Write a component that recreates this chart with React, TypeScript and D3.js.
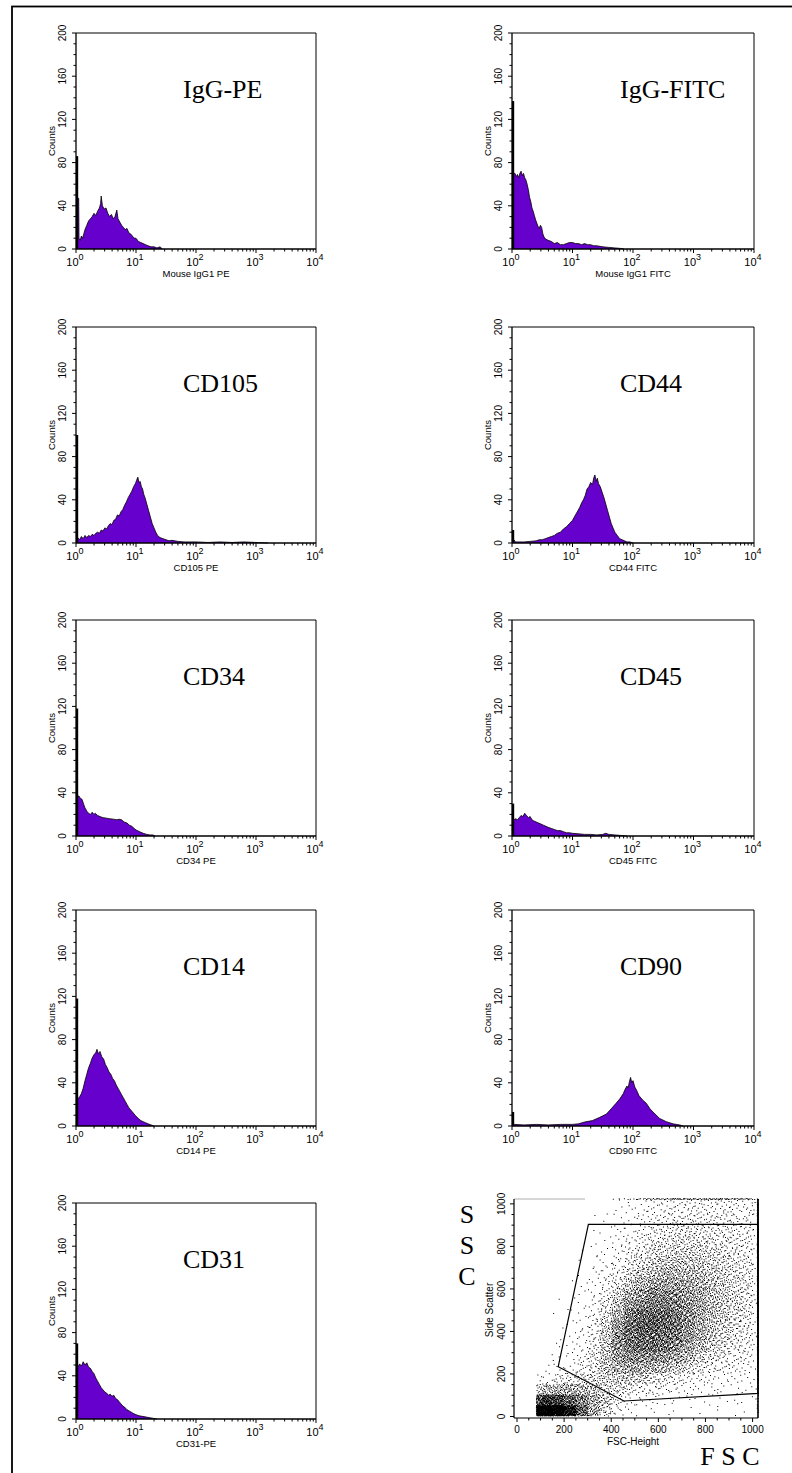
import React, { useMemo } from 'react';
import * as d3 from 'd3';

const W = 792;
const H = 1473;

// ---- Histogram data: [decade position (log10 of fluorescence), counts] ----
const histIgGPE: [number, number][] = [[0.03,47],[0.045,47],[0.05,10],[0.07,8],[0.09,12],[0.11,10],[0.13,14],[0.15,18],[0.18,22],[0.21,26],[0.24,28],[0.27,30],[0.3,33],[0.33,31],[0.36,35],[0.39,38],[0.41,42],[0.42,49],[0.44,40],[0.47,37],[0.5,38],[0.53,33],[0.56,30],[0.59,32],[0.62,28],[0.65,30],[0.68,36],[0.7,28],[0.73,25],[0.76,22],[0.79,20],[0.82,18],[0.85,19],[0.88,15],[0.91,14],[0.94,12],[0.97,10],[1.0,10],[1.04,7],[1.08,6],[1.12,5],[1.16,4],[1.2,3],[1.25,2],[1.3,2],[1.35,1],[1.4,2],[1.44,0]];
const histIgGFITC: [number, number][] = [[0.03,70],[0.05,70],[0.07,67],[0.09,69],[0.11,66],[0.13,70],[0.15,72],[0.17,68],[0.19,70],[0.21,66],[0.23,64],[0.25,60],[0.27,55],[0.29,48],[0.31,44],[0.33,38],[0.35,35],[0.37,31],[0.39,27],[0.41,24],[0.43,21],[0.45,19],[0.47,22],[0.49,20],[0.51,14],[0.53,11],[0.56,9],[0.6,8],[0.65,7],[0.7,5],[0.75,6],[0.8,4],[0.85,4],[0.9,5],[0.95,6],[1.0,6],[1.05,5],[1.1,5],[1.15,4],[1.2,5],[1.25,4],[1.3,4],[1.35,3],[1.4,3],[1.5,2],[1.6,1.5],[1.7,1],[1.8,0.5],[1.85,0]];
const histCD105: [number, number][] = [[0.03,5],[0.06,3],[0.09,6],[0.12,4],[0.15,7],[0.18,5],[0.21,7],[0.24,6],[0.27,8],[0.3,7],[0.33,9],[0.36,10],[0.39,9],[0.42,12],[0.45,11],[0.48,14],[0.51,13],[0.54,16],[0.57,18],[0.6,17],[0.63,21],[0.66,22],[0.69,26],[0.72,25],[0.75,29],[0.78,31],[0.81,35],[0.84,38],[0.87,42],[0.9,45],[0.93,48],[0.96,52],[0.99,55],[1.01,58],[1.03,61],[1.05,56],[1.07,57],[1.09,52],[1.11,50],[1.13,45],[1.15,42],[1.18,36],[1.21,30],[1.24,24],[1.27,18],[1.3,14],[1.33,10],[1.36,7],[1.4,5],[1.45,4],[1.5,3],[1.55,2],[1.6,2.5],[1.7,1.5],[1.8,1],[2.0,1],[2.2,0.5],[2.4,1],[2.6,0.5],[2.8,1],[3.0,0.5],[3.2,0]];
const histCD44: [number, number][] = [[0.03,3],[0.06,1],[0.1,1],[0.2,1],[0.3,1.5],[0.4,2],[0.45,3],[0.5,3],[0.55,4],[0.6,5],[0.65,6],[0.7,7],[0.75,9],[0.8,10],[0.85,13],[0.9,15],[0.95,18],[1.0,21],[1.03,24],[1.06,27],[1.09,30],[1.12,33],[1.15,37],[1.18,40],[1.21,44],[1.24,50],[1.27,52],[1.3,56],[1.33,54],[1.35,60],[1.37,63],[1.39,57],[1.41,60],[1.43,55],[1.46,52],[1.49,47],[1.52,42],[1.55,36],[1.58,30],[1.61,24],[1.64,18],[1.67,14],[1.7,10],[1.74,7],[1.78,4],[1.82,3],[1.86,2],[1.9,1],[1.95,1],[2.0,0]];
const histCD34: [number, number][] = [[0.03,37],[0.05,37],[0.07,35],[0.1,34],[0.13,29],[0.15,26],[0.18,23],[0.21,21],[0.24,20],[0.27,22],[0.3,20],[0.32,21],[0.36,19],[0.4,18],[0.45,17],[0.51,16.5],[0.56,16],[0.62,15.6],[0.68,15],[0.72,15.5],[0.76,15],[0.8,13],[0.85,12],[0.89,10],[0.93,9],[0.97,7],[1.0,5.6],[1.06,4],[1.12,2.5],[1.18,1.5],[1.23,1],[1.28,1],[1.32,0]];
const histCD45: [number, number][] = [[0.03,15],[0.06,16],[0.09,15],[0.12,17],[0.15,19],[0.18,18],[0.21,21],[0.24,19],[0.27,17],[0.3,18],[0.33,15],[0.36,14],[0.4,13],[0.44,12],[0.48,11],[0.52,10],[0.56,9],[0.6,8],[0.65,7],[0.7,6],[0.75,5],[0.8,5],[0.85,4],[0.9,3],[0.95,3],[1.0,2.5],[1.1,2],[1.2,1.5],[1.3,1.5],[1.4,1],[1.5,1.5],[1.55,2.5],[1.6,1.5],[1.7,1],[1.8,0.5],[1.9,0]];
const histCD14: [number, number][] = [[0.03,25],[0.06,27],[0.09,30],[0.12,35],[0.15,42],[0.18,48],[0.21,54],[0.24,58],[0.27,63],[0.3,66],[0.33,68],[0.35,71],[0.37,67],[0.4,69],[0.43,64],[0.46,62],[0.49,57],[0.52,54],[0.55,50],[0.58,48],[0.61,44],[0.64,42],[0.67,38],[0.7,35],[0.73,32],[0.76,29],[0.79,26],[0.82,23],[0.85,20],[0.88,17],[0.91,15],[0.94,13],[0.97,11],[1.0,9],[1.04,7],[1.08,5],[1.12,4],[1.16,3],[1.2,2],[1.25,1],[1.3,0]];
const histCD90: [number, number][] = [[0.03,1.5],[0.2,1],[0.4,1.5],[0.6,1],[0.8,1.5],[1.0,1.5],[1.1,2],[1.2,3.7],[1.33,5],[1.45,8],[1.56,11],[1.64,16],[1.72,21],[1.78,25],[1.84,30],[1.87,34],[1.9,37],[1.92,35],[1.94,41],[1.96,45],[1.98,40],[2.0,42],[2.03,36],[2.06,33],[2.1,28],[2.16,24],[2.22,21],[2.28,16],[2.33,13],[2.44,7],[2.55,4],[2.66,2],[2.77,1],[2.83,0]];
const histCD31: [number, number][] = [[0.03,48],[0.06,51],[0.09,49],[0.12,53],[0.15,50],[0.18,52],[0.21,48],[0.24,47],[0.27,44],[0.3,42],[0.33,38],[0.36,35],[0.39,32],[0.42,29],[0.45,27],[0.48,25],[0.51,24],[0.54,22],[0.57,23],[0.6,21],[0.63,22],[0.66,19],[0.69,18],[0.72,16],[0.75,14],[0.78,12],[0.81,11],[0.84,9],[0.87,8],[0.9,7],[0.93,6],[0.96,5],[1.0,4],[1.05,3],[1.1,2.5],[1.15,2],[1.2,1.5],[1.25,1],[1.3,0.5],[1.35,0]];
// counts in the first (lowest) channel, drawn as the spike on the left axis
const firstChannel = [86, 137, 100, 12, 118, 30, 118, 13, 70];

// ---- Histogram labels ----
const histTitles = ['IgG-PE', 'IgG-FITC', 'CD105', 'CD44', 'CD34', 'CD45', 'CD14', 'CD90', 'CD31'];
const histXLabels = ['Mouse IgG1 PE', 'Mouse IgG1 FITC', 'CD105 PE', 'CD44 FITC', 'CD34 PE', 'CD45 FITC', 'CD14 PE', 'CD90 FITC', 'CD31-PE'];
const histData = [histIgGPE, histIgGFITC, histCD105, histCD44, histCD34, histCD45, histCD14, histCD90, histCD31];
const countTicks = [0, 40, 80, 120, 160, 200];
const decadeTicks = [0, 1, 2, 3, 4];

// ---- Scatter plot: density grid (events per cell) ----
const fscEdges = [80, 100, 150, 200, 250, 300, 350, 400, 450, 500, 550, 600, 650, 700, 750, 800, 850, 900, 950, 1000, 1023];
const sscEdges = [0, 50, 100, 150, 200, 250, 300, 350, 400, 450, 500, 550, 600, 650, 700, 750, 800, 850, 900, 950, 1000, 1023];
// rows from ssc 0-50 (bottom) up to ssc 1000-1023 (top); columns follow fscEdges
const scatterCounts: number[][] = [
  [130, 320, 280, 180, 90, 45, 22, 8, 3, 2, 2, 1, 1, 1, 1, 1, 1, 1, 1, 1],
  [45, 140, 120, 90, 70, 45, 30, 14, 8, 5, 4, 3, 3, 2, 2, 2, 2, 2, 2, 1],
  [10, 35, 40, 40, 38, 30, 25, 20, 15, 12, 10, 8, 6, 5, 4, 4, 3, 3, 3, 1],
  [2, 6, 12, 15, 18, 22, 25, 28, 28, 25, 20, 16, 12, 10, 8, 6, 5, 4, 4, 1],
  [0, 2, 4, 6, 10, 18, 30, 40, 45, 45, 40, 35, 28, 22, 16, 12, 10, 8, 6, 1],
  [0, 1, 2, 4, 8, 16, 32, 50, 60, 62, 60, 55, 45, 35, 25, 18, 14, 10, 8, 1],
  [0, 0, 2, 3, 6, 14, 30, 55, 72, 78, 78, 70, 60, 48, 35, 25, 18, 14, 10, 2],
  [0, 0, 1, 2, 5, 12, 28, 55, 78, 85, 85, 80, 70, 55, 40, 30, 22, 16, 12, 2],
  [0, 0, 1, 2, 4, 10, 25, 50, 75, 85, 88, 82, 72, 58, 44, 32, 24, 18, 13, 2],
  [0, 0, 1, 1, 3, 8, 20, 42, 65, 78, 82, 80, 70, 58, 45, 34, 26, 20, 14, 2],
  [0, 0, 1, 1, 3, 6, 15, 32, 52, 65, 72, 72, 66, 56, 45, 35, 27, 21, 15, 2],
  [0, 0, 0, 1, 2, 5, 11, 24, 40, 52, 60, 62, 58, 50, 42, 34, 27, 21, 15, 2],
  [0, 0, 0, 1, 2, 4, 8, 16, 28, 38, 46, 50, 48, 44, 38, 30, 25, 20, 15, 2],
  [0, 0, 0, 0, 1, 3, 6, 11, 19, 27, 34, 38, 38, 36, 32, 27, 22, 18, 14, 2],
  [0, 0, 0, 0, 1, 2, 4, 8, 13, 19, 25, 29, 30, 29, 27, 23, 20, 16, 13, 2],
  [0, 0, 0, 0, 1, 2, 3, 6, 10, 14, 19, 22, 24, 24, 22, 20, 17, 14, 12, 2],
  [0, 0, 0, 0, 0, 1, 2, 4, 7, 10, 14, 17, 19, 19, 18, 17, 15, 13, 11, 2],
  [0, 0, 0, 0, 0, 1, 2, 3, 5, 8, 11, 13, 15, 15, 15, 14, 13, 12, 10, 2],
  [0, 0, 0, 0, 0, 1, 1, 2, 4, 6, 8, 10, 12, 12, 12, 12, 11, 10, 9, 2],
  [0, 0, 0, 0, 0, 0, 1, 2, 3, 5, 6, 8, 9, 10, 10, 10, 9, 9, 8, 2],
  [0, 0, 0, 0, 0, 0, 0, 1, 1, 2, 3, 3, 4, 4, 4, 4, 4, 4, 3, 1],
];
// saturated events on the right edge (FSC = 1023), per ssc row
const rightEdgeCounts = [3, 4, 6, 8, 10, 12, 14, 16, 18, 20, 22, 24, 26, 26, 28, 28, 30, 30, 30, 30, 8];
// saturated events on the top edge (SSC = 1023), per fsc column
const topEdgeCounts = [0, 0, 0, 0, 0, 0, 0, 2, 4, 6, 8, 10, 12, 12, 12, 12, 12, 10, 10, 2];
const gate: [number, number][] = [[303, 904], [1023, 904], [1023, 109], [454, 73], [175, 234]];
const scatterTicks = [0, 200, 400, 600, 800, 1000];

const SANS = 'Liberation Sans, Arial, sans-serif';
const SERIF = 'Liberation Serif, Times New Roman, serif';
const PURPLE = '#6600cc';

function halton(i: number, b: number) {
  let f = 1, r = 0;
  while (i > 0) { f /= b; r += f * (i % b); i = Math.floor(i / b); }
  return r;
}

type HistProps = {
  left: number; top: number; width: number; height: number; spike: number;
  title: string; titleX: number; titleY: number; xLabel: string; data: [number, number][];
};

function Histogram({ left, top, width, height, spike, title, titleX, titleY, xLabel, data }: HistProps) {
  const x = d3.scaleLog().domain([1, 1e4]).range([left, left + width]);
  const y = d3.scaleLinear().domain([0, 200]).range([top + height, top]);
  const area = d3.area<[number, number]>().x(d => x(Math.pow(10, d[0]))).y0(y(0)).y1(d => y(d[1]));
  const line = d3.line<[number, number]>().x(d => x(Math.pow(10, d[0]))).y(d => y(d[1]));
  const minor: number[] = [];
  for (let d = 0; d < 4; d++) for (let m = 2; m <= 9; m++) minor.push(m * Math.pow(10, d));
  const yMinor = d3.range(0, 201, 10);
  const bottom = top + height;
  return (
    <g>
      <path d={area(data) || ''} fill={PURPLE} />
      <path d={line(data) || ''} fill="none" stroke="#000" strokeWidth={0.8} />
      <rect x={x(1)} y={y(spike)} width={2.2} height={y(0) - y(spike)} fill="#000" />
      <line x1={x(1)} x2={x(1e4)} y1={top} y2={top} stroke="#000" strokeWidth={1} />
      <line x1={x(1e4)} x2={x(1e4)} y1={top} y2={bottom} stroke="#000" strokeWidth={1} />
      <line x1={x(1)} x2={x(1e4)} y1={bottom} y2={bottom} stroke="#000" strokeWidth={1.6} />
      <line x1={x(1)} x2={x(1)} y1={top} y2={bottom} stroke="#000" strokeWidth={1.3} />
      {yMinor.map(v => (
        <line key={'ym' + v} x1={x(1) - (v % 40 === 0 ? 4 : 2.5)} x2={x(1)} y1={y(v)} y2={y(v)} stroke="#000" strokeWidth={1} />
      ))}
      {countTicks.map(v => (
        <text key={'yt' + v} transform={`translate(${x(1) - 10},${y(v)}) rotate(-90)`} textAnchor="middle"
          fontFamily={SANS} fontSize={10} fill="#000">{v}</text>
      ))}
      <text transform={`translate(${x(1) - 21},${(top + bottom) / 2}) rotate(-90)`} textAnchor="middle"
        fontFamily={SANS} fontSize={9.5} fill="#000">Counts</text>
      {minor.map(v => (
        <line key={'xm' + v} x1={x(v)} x2={x(v)} y1={bottom} y2={bottom + 2.5} stroke="#000" strokeWidth={1} />
      ))}
      {decadeTicks.map(p => (
        <g key={'xt' + p}>
          <line x1={x(Math.pow(10, p))} x2={x(Math.pow(10, p))} y1={bottom} y2={bottom + 4} stroke="#000" strokeWidth={1} />
          <text x={x(Math.pow(10, p)) - 1} y={bottom + 17} textAnchor="middle" fontFamily={SANS} fontSize={11} fill="#000">
            10<tspan fontSize={9} dy={-6.5}>{p}</tspan>
          </text>
        </g>
      ))}
      <text x={(left + left + width) / 2} y={bottom + 28} textAnchor="middle" fontFamily={SANS} fontSize={9.5} fill="#000">{xLabel}</text>
      <text x={titleX} y={titleY} fontFamily={SERIF} fontSize={26} fill="#000">{title}</text>
    </g>
  );
}

function Scatter() {
  const x = d3.scaleLinear().domain([0, 1023]).range([517, 758]);
  const y = d3.scaleLinear().domain([0, 1023]).range([1416.5, 1199]);
  const dots = useMemo(() => {
    let s = '';
    let idx = 1;
    const add = (fx: number, fy: number) => {
      const px = x(fx), py = y(fy);
      s += `M${px.toFixed(1)},${(py - 1).toFixed(1)}h1v1h-1z`;
    };
    scatterCounts.forEach((row, ri) => {
      const y0 = sscEdges[ri], y1 = sscEdges[ri + 1];
      row.forEach((n, ci) => {
        const x0 = fscEdges[ci], x1 = fscEdges[ci + 1];
        for (let k = 0; k < n; k++) {
          add(x0 + (x1 - x0) * halton(idx, 2), y0 + (y1 - y0) * halton(idx, 3));
          idx++;
        }
      });
    });
    rightEdgeCounts.forEach((n, ri) => {
      const y0 = sscEdges[ri], y1 = sscEdges[ri + 1];
      for (let k = 0; k < n; k++) { add(1018 + 5 * halton(idx, 2), y0 + (y1 - y0) * halton(idx, 3)); idx++; }
    });
    topEdgeCounts.forEach((n, ci) => {
      const x0 = fscEdges[ci], x1 = fscEdges[ci + 1];
      for (let k = 0; k < n; k++) { add(x0 + (x1 - x0) * halton(idx, 2), 1018 + 5 * halton(idx, 3)); idx++; }
    });
    return s;
  }, []);
  const left = x(0) - 3, right = x(1023), top = y(1023), bottom = 1418;
  const gateLine = d3.line<[number, number]>().x(d => x(d[0])).y(d => y(d[1]));
  const minor = d3.range(0, 1001, 50);
  return (
    <g>
      <line x1={left} x2={585} y1={top} y2={top} stroke="#999" strokeWidth={0.8} />
      <line x1={right} x2={right} y1={top} y2={bottom} stroke="#000" strokeWidth={1.6} />
      <line x1={left} x2={right} y1={bottom} y2={bottom} stroke="#000" strokeWidth={1.2} />
      <line x1={left} x2={left} y1={top} y2={bottom} stroke="#000" strokeWidth={1.2} />
      <path d={dots} fill="#000" />
      <path d={(gateLine(gate) || '') + 'Z'} fill="none" stroke="#000" strokeWidth={1.2} />
      {minor.map(v => (
        <g key={'m' + v}>
          <line x1={left - (v % 200 === 0 ? 4 : 2.5)} x2={left} y1={y(v)} y2={y(v)} stroke="#000" strokeWidth={1} />
          <line x1={x(v)} x2={x(v)} y1={bottom} y2={bottom + (v % 200 === 0 ? 4 : 2.5)} stroke="#000" strokeWidth={1} />
        </g>
      ))}
      {scatterTicks.map(v => (
        <g key={'t' + v}>
          <text transform={`translate(${left - 9},${y(v)}) rotate(-90)`} textAnchor="middle" fontFamily={SANS} fontSize={10} fill="#000">{v}</text>
          <text x={x(v)} y={1433} textAnchor="middle" fontFamily={SANS} fontSize={10} fill="#000">{v}</text>
        </g>
      ))}
      <text transform={`translate(493,1310) rotate(-90)`} textAnchor="middle" fontFamily={SANS} fontSize={10} fill="#000">Side Scatter</text>
      <text x={633} y={1444.5} textAnchor="middle" fontFamily={SANS} fontSize={10} fill="#000">FSC-Height</text>
      {['S', 'S', 'C'].map((c, i) => (
        <text key={'ssc' + i} x={467} y={1223 + i * 31} textAnchor="middle" fontFamily={SERIF} fontSize={26} fill="#000">{c}</text>
      ))}
      <text x={730} y={1465} textAnchor="middle" fontFamily={SERIF} fontSize={26} fill="#000">F S C</text>
    </g>
  );
}

export default function App() {
  const colLeft = [76, 512];
  const colWidth = [240, 242];
  const rowTop = [33, 327, 620, 910, 1203];
  const titleX = [183, 620];
  const panelH = 216;
  return (
    <svg width={W} height={H} style={{ position: 'absolute', left: 0, top: 0, background: '#fff' }}>
      <rect x={0} y={0} width={W} height={H} fill="#fff" />
      <rect x={12} y={6.5} width={W + 20} height={H + 20} fill="none" stroke="#000" strokeWidth={1.8} />
      {histTitles.map((t, i) => {
        const col = i % 2, row = Math.floor(i / 2);
        return (
          <Histogram key={t} left={colLeft[col]} top={rowTop[row]} width={colWidth[col]} height={panelH}
            spike={firstChannel[i]} title={t} titleX={titleX[col]} titleY={rowTop[row] + 65}
            xLabel={histXLabels[i]} data={histData[i]} />
        );
      })}
      <Scatter />
    </svg>
  );
}
